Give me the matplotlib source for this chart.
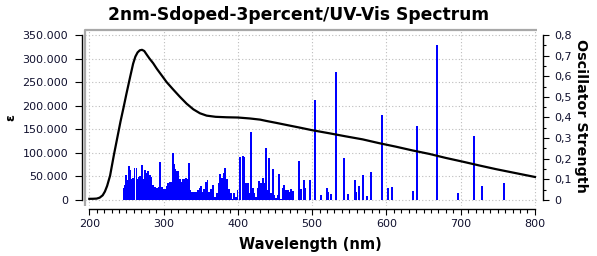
import numpy as np
import matplotlib
matplotlib.use('Agg')
import matplotlib.pyplot as plt
from matplotlib.ticker import MultipleLocator, FuncFormatter

# spectrum (epsilon)
wl_curve = [200, 205, 210, 214, 218, 221, 224, 228, 233, 238, 242, 246, 250, 255, 259,
            262, 265, 268, 271, 274, 277, 281, 286, 291, 298, 304, 313, 322, 331, 340,
            349, 358, 370, 385, 400, 416, 430, 439, 452, 466, 484, 500, 523, 545, 568,
            590, 613, 635, 658, 680, 703, 725, 748, 770, 800]
eps_curve = [2500, 2600, 3000, 5000, 10000, 18000, 30000, 52000, 95000, 135000, 167000,
             196000, 226000, 262000, 290000, 305000, 314000, 318500, 319500, 317000,
             310000, 301000, 291000, 279000, 264000, 251000, 235000, 219500, 205000,
             193000, 184500, 179500, 177000, 176000, 175500, 173500, 171000, 168000,
             164000, 159500, 153800, 148500, 142000, 135500, 129000, 121000, 113400,
             105500, 98000, 89500, 81500, 73500, 65500, 58500, 49000]

# excitations (oscillator strength)
wl_sticks = [246.2, 247.8, 249.6, 251.3, 252.9, 254.5, 256.3, 259.0, 260.8, 263.5,
             264.8, 266.6, 268.4, 270.4, 272.4, 273.8, 275.3, 276.9, 278.9, 281.2,
             283.2, 285.4, 288.1, 290.8, 293.1, 295.3, 297.8, 300.0, 302.0, 304.3,
             306.3, 308.1, 310.1, 312.3, 314.1, 315.5, 317.1, 319.5, 322.2, 324.0,
             325.8, 328.0, 330.3, 332.3, 334.1, 335.9, 338.1, 340.4, 342.6, 344.9,
             346.7, 348.5, 350.5, 352.7, 354.9, 357.2, 359.2, 361.4, 363.9, 366.2,
             368.9, 371.8, 374.2, 376.5, 378.7, 381.0, 383.2, 385.4, 388.2, 390.8,
             393.1, 395.3, 397.6, 399.6, 402.5, 406.5, 408.8, 411.0, 413.3, 415.5,
             417.7, 420.0, 422.2, 424.5, 426.7, 429.0, 431.2, 433.4, 435.7, 437.9,
             440.2, 442.4, 444.7, 446.9, 449.1, 451.4, 453.6, 455.9, 458.1, 460.4,
             462.6, 464.8, 467.1, 469.3, 471.6, 473.8,
             482.9, 485.0, 488.8, 490.6, 496.9, 503.6, 511.7, 519.8, 521.5, 525.2,
             532.3, 542.7, 548.5, 557.5, 559.2, 562.9, 568.6, 573.6, 579.0, 594.2,
             602.3, 607.7, 636.0, 641.3, 667.8, 696.5, 717.6, 728.8, 758.4]
f_sticks = [0.057, 0.073, 0.121, 0.097, 0.165, 0.145, 0.100, 0.105, 0.155, 0.155,
            0.100, 0.113, 0.116, 0.170, 0.048, 0.100, 0.145, 0.133, 0.141, 0.120,
            0.113, 0.074, 0.065, 0.060, 0.065, 0.184, 0.065, 0.055, 0.052, 0.068,
            0.084, 0.087, 0.087, 0.226, 0.175, 0.150, 0.141, 0.141, 0.100, 0.089,
            0.103, 0.100, 0.107, 0.100, 0.178, 0.048, 0.040, 0.039, 0.039, 0.039,
            0.048, 0.057, 0.069, 0.040, 0.052, 0.089, 0.097, 0.040, 0.052, 0.074,
            0.016, 0.036, 0.081, 0.126, 0.105, 0.133, 0.154, 0.100, 0.052, 0.036,
            0.006, 0.036, 0.016, 0.048, 0.207, 0.213, 0.210, 0.081, 0.084, 0.032,
            0.331, 0.057, 0.036, 0.013, 0.057, 0.094, 0.084, 0.105, 0.081, 0.250,
            0.048, 0.202, 0.036, 0.149, 0.024, 0.008, 0.024, 0.126, 0.003, 0.057,
            0.073, 0.048, 0.048, 0.040, 0.052, 0.045,
            0.188, 0.052, 0.095, 0.060, 0.095, 0.484, 0.023, 0.057, 0.040, 0.027,
            0.620, 0.202, 0.027, 0.095, 0.039, 0.066, 0.120, 0.018, 0.134, 0.410,
            0.057, 0.061, 0.042, 0.358, 0.750, 0.032, 0.310, 0.066, 0.081]

W, H = 597, 256
fig = plt.figure(figsize=(W/100, H/100), dpi=100)
rect = [85/W, (H-206)/H, (537-85)/W, 176/H]

tick_col = '#10102e'
px = 0.72  # points per pixel

ax = fig.add_axes(rect)
ax2 = ax.twinx()
ax3 = fig.add_axes(rect, sharex=ax, sharey=ax)
ax3.axis('off')

ax.set_xlim(194.2, 802.8)
ax.set_ylim(-12766, 361700)
ax2.set_ylim(-0.0291, 0.8242)

# grid
ax.xaxis.set_major_locator(MultipleLocator(100))
ax.xaxis.set_minor_locator(MultipleLocator(10))
ax.yaxis.set_major_locator(MultipleLocator(50000))
ax.grid(True, color='#bdbdbd', linestyle=(0, (1, 2)), linewidth=0.8)
ax.set_axisbelow(True)

# sticks
ax2.bar(wl_sticks, f_sticks, width=2.5, color='#0000ff', linewidth=0)
# curve
ax3.plot(wl_curve, eps_curve, color='black', lw=1.6, solid_joinstyle='round')

# spines
for s in ['top', 'right']:
    ax.spines[s].set_visible(False)
for s in ['top', 'left', 'bottom']:
    ax2.spines[s].set_visible(False)
ax.spines['left'].set_position(('outward', 3*px))
ax.spines['left'].set_bounds(0, 350000)
ax.spines['bottom'].set_position(('outward', 3*px))
ax.spines['bottom'].set_bounds(200, 800)
ax2.spines['right'].set_position(('outward', 6*px))
ax2.spines['right'].set_bounds(0, 0.8)
for sp in [ax.spines['left'], ax.spines['bottom'], ax2.spines['right']]:
    sp.set_linewidth(1.0)

# gray frame
ax.plot([0, 0, 1], [0, 1, 1], transform=ax.transAxes, color='#a8a8a8', lw=1.6,
        clip_on=False, solid_capstyle='butt')

ax.tick_params(axis='x', which='major', length=6*px, width=0.8, pad=3, labelsize=8,
               labelcolor=tick_col)
ax.tick_params(axis='x', which='minor', length=4*px, width=0.8)
ax.tick_params(axis='y', which='major', length=7*px, width=0.8, pad=5, labelsize=8,
               labelcolor=tick_col)
ax.yaxis.set_major_formatter(FuncFormatter(lambda v, p: '{:,.0f}'.format(v).replace(',', '.')))

ax2.yaxis.set_major_locator(MultipleLocator(0.1))
ax2.yaxis.set_minor_locator(MultipleLocator(0.05))
ax2.yaxis.set_major_formatter(FuncFormatter(
    lambda v, p: '0' if abs(v) < 1e-9 else '{:.1f}'.format(v).replace('.', ',')))
ax2.tick_params(axis='y', which='major', length=6*px, width=0.8, pad=4, labelsize=8,
                labelcolor=tick_col)
ax2.tick_params(axis='y', which='minor', length=3*px, width=0.8)

# texts
fig.text(0.5, 1 - 19.5/H, '2nm-Sdoped-3percent/UV-Vis Spectrum', ha='center',
         va='baseline', fontsize=12.3, fontweight='bold')
fig.text(310.5/W, (H-249.5)/H, 'Wavelength (nm)', ha='center', va='baseline',
         fontsize=10.5, fontweight='bold')
fig.text(581.5/W, 1 - 115.5/H, 'Oscillator Strength', ha='center', va='center',
         rotation=270, fontsize=10.3, fontweight='bold')
fig.text(10.5/W, 1 - 118/H, 'ε', ha='center', va='center', rotation=90,
         fontsize=9, fontweight='bold')

fig.savefig('out.png', dpi=100)
